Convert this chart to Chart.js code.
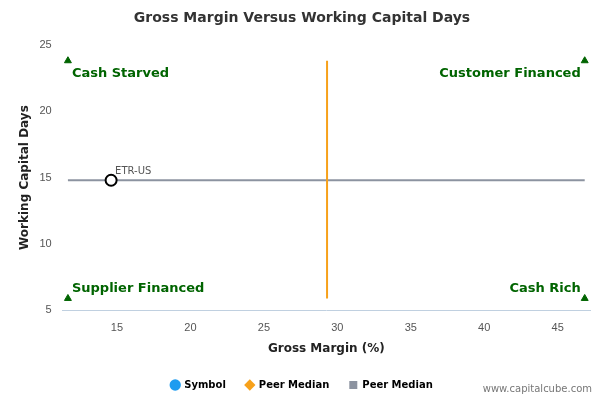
<!DOCTYPE html>
<html>
<head>
<meta charset="utf-8">
<script src="https://cdn.jsdelivr.net/npm/chart.js@4/dist/chart.umd.min.js"></script>
<style>
body { margin: 0; background: #fff; }
#wrap { width: 600px; height: 400px; position: relative; }
#credit { position: absolute; right: 8px; bottom: 6px; font: 10px "DejaVu Sans", sans-serif; color: #777; }
</style>
</head>
<body>
<div id="wrap"><canvas id="chart" width="600" height="400"></canvas><div id="credit">www.capitalcube.com</div></div>
<script>
// values
var symbolName = "ETR-US";
var symbolPoint = [{ x: 14.6, y: 14.8 }];
var peerMedianX = [{ x: 29.3, y: 5.9 }, { x: 29.3, y: 23.8 }];
var peerMedianY = [{ x: 11.66, y: 14.8 }, { x: 46.84, y: 14.8 }];
var corners = [{ x: 11.66, y: 23.8 }, { x: 46.84, y: 23.8 }, { x: 11.66, y: 5.9 }, { x: 46.84, y: 5.9 }];
var cornerLabels = ["Cash Starved", "Customer Financed", "Supplier Financed", "Cash Rich"];

var labelsPlugin = {
    id: 'labels',
    afterDatasetsDraw: function(chart) {
        var ctx = chart.ctx, xs = chart.scales.x, ys = chart.scales.y;
        ctx.save();
        ctx.font = 'bold 13px "DejaVu Sans", sans-serif';
        ctx.fillStyle = '#006400';
        ctx.textBaseline = 'middle';
        ctx.textAlign = 'left';
        ctx.fillText(cornerLabels[0], xs.getPixelForValue(corners[0].x) + 4, ys.getPixelForValue(corners[0].y) + 13);
        ctx.fillText(cornerLabels[2], xs.getPixelForValue(corners[2].x) + 4, ys.getPixelForValue(corners[2].y) - 10);
        ctx.textAlign = 'right';
        ctx.fillText(cornerLabels[1], xs.getPixelForValue(corners[1].x) - 4, ys.getPixelForValue(corners[1].y) + 13);
        ctx.fillText(cornerLabels[3], xs.getPixelForValue(corners[3].x) - 4, ys.getPixelForValue(corners[3].y) - 10);
        ctx.font = '10px "DejaVu Sans", sans-serif';
        ctx.fillStyle = '#555';
        ctx.textAlign = 'left';
        ctx.fillText(symbolName, xs.getPixelForValue(symbolPoint[0].x) + 4, ys.getPixelForValue(symbolPoint[0].y) - 9);
        ctx.restore();
    }
};

new Chart(document.getElementById('chart'), {
    type: 'scatter',
    data: {
        datasets: [{
            label: 'Symbol',
            data: symbolPoint,
            pointRadius: 5.5,
            pointBorderWidth: 2,
            borderColor: '#000',
            backgroundColor: '#fff'
        }, {
            label: 'Peer Median',
            data: peerMedianX,
            showLine: true,
            pointRadius: 0,
            borderColor: '#f7a11a',
            borderWidth: 2
        }, {
            label: 'Peer Median',
            data: peerMedianY,
            showLine: true,
            pointRadius: 0,
            borderColor: '#8c93a0',
            borderWidth: 2
        }, {
            label: 'corners',
            data: corners,
            pointStyle: 'triangle',
            pointRadius: 4,
            borderColor: '#006400',
            backgroundColor: '#006400'
        }]
    },
    options: {
        responsive: false,
        animation: false,
        layout: { padding: { left: 14, right: 10, top: 2, bottom: 0 } },
        plugins: {
            title: {
                display: true,
                text: 'Gross Margin Versus Working Capital Days',
                color: '#333',
                font: { family: '"DejaVu Sans", sans-serif', size: 14, weight: 'bold' },
                padding: { top: 8, bottom: 18 }
            },
            tooltip: { enabled: false },
            legend: {
                position: 'bottom',
                labels: {
                    usePointStyle: true,
                    boxWidth: 8,
                    boxHeight: 8,
                    color: '#333',
                    font: { family: '"DejaVu Sans", sans-serif', size: 10, weight: 'bold' },
                    padding: 20,
                    generateLabels: function(chart) {
                        return [
                            { text: 'Symbol', pointStyle: 'circle', fillStyle: '#1e9cf0', strokeStyle: '#1e9cf0', lineWidth: 0, datasetIndex: 0 },
                            { text: 'Peer Median', pointStyle: 'rectRot', fillStyle: '#f7a11a', strokeStyle: '#f7a11a', lineWidth: 0, datasetIndex: 1 },
                            { text: 'Peer Median', pointStyle: 'rect', fillStyle: '#8c93a0', strokeStyle: '#8c93a0', lineWidth: 0, datasetIndex: 2 }
                        ];
                    }
                }
            }
        },
        scales: {
            x: {
                min: 11.3, max: 47.2,
                grid: { display: false },
                border: { color: '#c0d0e0' },
                ticks: { color: '#555', font: { size: 11 } },
                afterBuildTicks: function(s) { s.ticks = [15, 20, 25, 30, 35, 40, 45].map(function(v) { return { value: v }; }); },
                title: { display: true, text: 'Gross Margin (%)', color: '#222', font: { family: '"DejaVu Sans", sans-serif', size: 12, weight: 'bold' } }
            },
            y: {
                min: 5, max: 25,
                grid: { display: false },
                border: { display: false },
                ticks: { stepSize: 5, color: '#555', font: { size: 11 } },
                title: { display: true, text: 'Working Capital Days', color: '#222', font: { family: '"DejaVu Sans", sans-serif', size: 12, weight: 'bold' } }
            }
        }
    },
    plugins: [labelsPlugin]
});
</script>
</body>
</html>
